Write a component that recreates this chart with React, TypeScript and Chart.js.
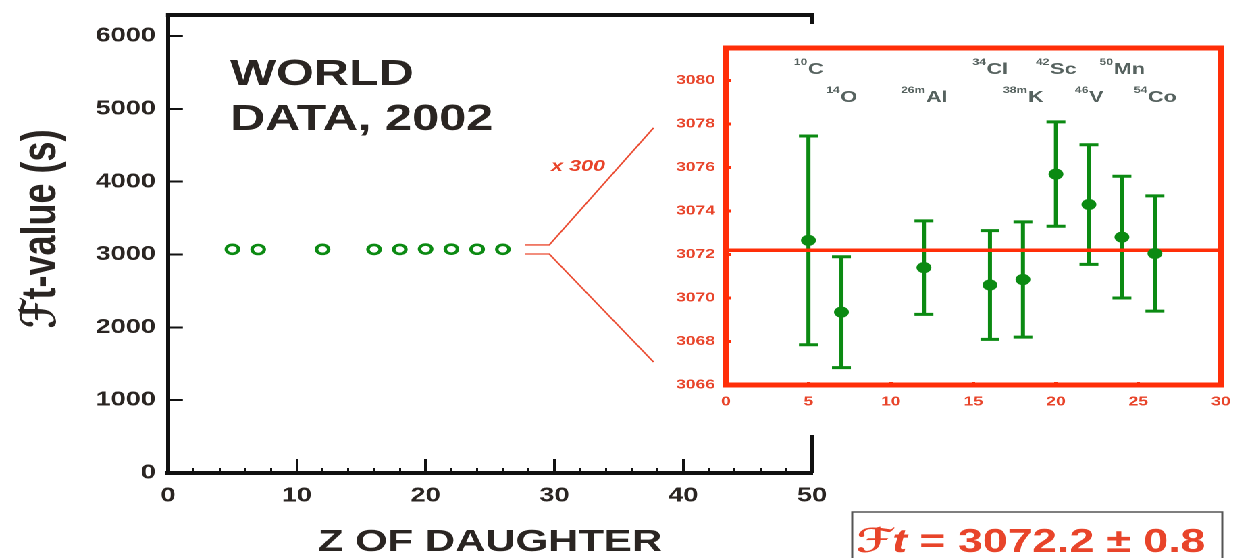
import React, { useEffect, useRef } from "react";
import { Chart, registerables } from "chart.js";

Chart.register(...registerables);

// Superallowed 0+ -> 0+ beta emitters: daughter Z, corrected Ft values (s) and 1-sigma errors
const DAUGHTER_Z = [5, 7, 12, 16, 18, 20, 22, 24, 26];
const FT_VALUES = [3072.65, 3069.35, 3071.4, 3070.6, 3070.85, 3075.7, 3074.3, 3072.8, 3072.05];
const FT_ERRORS = [4.8, 2.55, 2.15, 2.5, 2.65, 2.4, 2.75, 2.8, 2.65];
const ISOTOPE_MASS = ["10", "14", "26m", "34", "38m", "42", "46", "50", "54"];
const ISOTOPE_SYMBOL = ["C", "O", "Al", "Cl", "K", "Sc", "V", "Mn", "Co"];
const ISOTOPE_ROW = [0, 1, 1, 0, 1, 0, 1, 0, 1];

// World average
const FT_MEAN = 3072.2;
const FT_MEAN_ERROR = 0.8;
const MAGNIFICATION = 300;

// Axis ticks
const MAIN_X_TICKS = [0, 10, 20, 30, 40, 50];
const MAIN_X_MINOR = [0, 2, 4, 6, 8, 10, 12, 14, 16, 18, 20, 22, 24, 26, 28, 30, 32, 34, 36, 38, 40, 42, 44, 46, 48, 50];
const MAIN_Y_TICKS = [0, 1000, 2000, 3000, 4000, 5000, 6000];
const INSET_X_TICKS = [0, 5, 10, 15, 20, 25, 30];
const INSET_Y_TICKS = [3066, 3068, 3070, 3072, 3074, 3076, 3078, 3080];

const FONT = "'Liberation Sans', Arial, 'DejaVu Sans', sans-serif";
const INK = "#2a2522";
const GREEN = "#0b8a12";
const RED = "#ff2e08";
const RED_TEXT = "#e8442a";
const LABEL_GRAY = "#56625f";

// Drawing is done on a narrower surface, then widened to the page width
const W = 927;
const H = 558;
const STRETCH = 1252 / W;

const INSET_LEFT = 489;
const INSET_TOP = 24;
const INSET_W = W - INSET_LEFT;
const INSET_H = 411;

const fixedTicks = (values: number[]) => (scale: any) => {
  scale.ticks = values.map((v) => ({ value: v }));
};
const plainNumber = (v: number | string) => String(v);

// fixed axis thickness, and no extra room reserved for overhanging labels
const fixedSize = (size: number) => (s: any) => {
  if (s.isHorizontal()) s.height = size;
  else s.width = size;
  s.paddingTop = 0;
  s.paddingBottom = 0;
  s.paddingLeft = 0;
  s.paddingRight = 0;
};

const mainDecor = {
  id: "mainDecor",
  afterDraw(chart: any) {
    const { ctx, chartArea: a, scales } = chart;
    const xs = scales.x;
    const ys = scales.y;
    ctx.save();

    // top and right frame
    ctx.strokeStyle = "#111";
    ctx.lineWidth = 4;
    ctx.beginPath();
    ctx.moveTo(a.left - 1.5, a.top);
    ctx.lineTo(a.right + 1.5, a.top);
    ctx.stroke();
    ctx.lineWidth = 3;
    ctx.beginPath();
    ctx.moveTo(a.right, a.top - 2);
    ctx.lineTo(a.right, a.bottom);
    ctx.stroke();

    // caption
    ctx.fillStyle = INK;
    ctx.font = `bold 36px ${FONT}`;
    ctx.textAlign = "left";
    ctx.textBaseline = "alphabetic";
    ctx.fillText("WORLD", a.left + 46, 85);
    ctx.fillText("DATA, 2002", a.left + 46, 130);

    // zoom connector towards the inset
    ctx.strokeStyle = "#ea4a30";
    ctx.lineWidth = 1.3;
    const xa = xs.getPixelForValue(27.7);
    const xb = xs.getPixelForValue(29.6);
    const xc = xs.getPixelForValue(37.7);
    const yHi = ys.getPixelForValue(3132);
    const yLo = ys.getPixelForValue(3008);
    ctx.beginPath();
    ctx.moveTo(xa, yHi);
    ctx.lineTo(xb, yHi);
    ctx.lineTo(xc, ys.getPixelForValue(4740));
    ctx.moveTo(xa, yLo);
    ctx.lineTo(xb, yLo);
    ctx.lineTo(xc, ys.getPixelForValue(1525));
    ctx.stroke();

    ctx.fillStyle = RED_TEXT;
    ctx.font = `italic bold 16px ${FONT}`;
    ctx.textAlign = "center";
    ctx.fillText(`x ${MAGNIFICATION}`, 428, 171);

    // world average box
    const bx = 631;
    const by = 512;
    ctx.strokeStyle = "#555";
    ctx.lineWidth = 1.5;
    ctx.strokeRect(bx, by, 274, 70);
    ctx.fillStyle = RED_TEXT;
    ctx.textAlign = "left";
    let tx = bx + 3;
    const base = 552;
    ctx.font = `italic bold 33px 'DejaVu Sans', ${FONT}`;
    ctx.fillText("\u2131", tx, base);
    tx += ctx.measureText("\u2131").width;
    ctx.font = `italic bold 33px ${FONT}`;
    ctx.fillText("t", tx, base);
    tx += ctx.measureText("t").width;
    ctx.font = `bold 33px ${FONT}`;
    ctx.fillText(` = ${FT_MEAN.toFixed(1)} \u00b1 ${FT_MEAN_ERROR}`, tx, base);

    ctx.restore();
  },
};

const insetDecor = {
  id: "insetDecor",
  beforeDatasetsDraw(chart: any) {
    const { ctx, scales } = chart;
    const xs = scales.x;
    const ys = scales.y;
    ctx.save();
    ctx.strokeStyle = GREEN;
    ctx.lineWidth = 3;
    DAUGHTER_Z.forEach((z, i) => {
      const px = xs.getPixelForValue(z);
      const yHi = ys.getPixelForValue(FT_VALUES[i] + FT_ERRORS[i]);
      const yLo = ys.getPixelForValue(FT_VALUES[i] - FT_ERRORS[i]);
      ctx.beginPath();
      ctx.moveTo(px, yHi);
      ctx.lineTo(px, yLo);
      ctx.moveTo(px - 7, yHi);
      ctx.lineTo(px + 7, yHi);
      ctx.moveTo(px - 7, yLo);
      ctx.lineTo(px + 7, yLo);
      ctx.stroke();
    });
    ctx.restore();
  },
  afterDraw(chart: any) {
    const { ctx, chartArea: a, scales } = chart;
    const xs = scales.x;
    ctx.save();
    // top and right of the red frame
    ctx.strokeStyle = RED;
    ctx.lineWidth = 5;
    ctx.beginPath();
    ctx.moveTo(a.left - 2, a.top);
    ctx.lineTo(a.right + 2, a.top);
    ctx.stroke();
    ctx.lineWidth = 4;
    ctx.beginPath();
    ctx.moveTo(a.right, a.top - 2.5);
    ctx.lineTo(a.right, a.bottom + 2.5);
    ctx.stroke();

    // isotope names
    ctx.fillStyle = LABEL_GRAY;
    ctx.textAlign = "left";
    ctx.textBaseline = "alphabetic";
    const supFont = `bold 9px ${FONT}`;
    const symFont = `bold 16px ${FONT}`;
    DAUGHTER_Z.forEach((z, i) => {
      ctx.font = supFont;
      const ws = ctx.measureText(ISOTOPE_MASS[i]).width;
      ctx.font = symFont;
      const wm = ctx.measureText(ISOTOPE_SYMBOL[i]).width;
      const cx = xs.getPixelForValue(z);
      const x0 = cx - (ws + wm) / 2;
      const base = a.top + (ISOTOPE_ROW[i] ? 54 : 26);
      ctx.font = supFont;
      ctx.fillText(ISOTOPE_MASS[i], x0, base - 9);
      ctx.font = symFont;
      ctx.fillText(ISOTOPE_SYMBOL[i], x0 + ws + 0.5, base);
    });
    ctx.restore();
  },
};

export default function App() {
  const mainRef = useRef<HTMLCanvasElement>(null);
  const insetRef = useRef<HTMLCanvasElement>(null);

  useEffect(() => {
    if (!mainRef.current || !insetRef.current) return;
    const points = DAUGHTER_Z.map((z, i) => ({ x: z, y: FT_VALUES[i] }));

    const main = new Chart(mainRef.current, {
      type: "scatter",
      data: {
        datasets: [
          {
            data: points,
            pointStyle: "circle",
            pointRadius: 4.5,
            pointBorderWidth: 2.6,
            pointBorderColor: GREEN,
            pointBackgroundColor: "rgba(0,0,0,0)",
          },
        ],
      },
      options: {
        animation: false,
        responsive: false,
        devicePixelRatio: 2,
        events: [],
        layout: { autoPadding: false, padding: { left: 0, top: 15, right: W - 601.2, bottom: 0 } },
        plugins: { legend: { display: false }, tooltip: { enabled: false } },
        scales: {
          x: {
            type: "linear",
            position: "bottom",
            weight: 1,
            min: 0,
            max: 50,
            afterBuildTicks: fixedTicks(MAIN_X_TICKS),
            ticks: {
              font: { size: 20, weight: "bold", family: FONT },
              color: INK,
              padding: 25,
              maxRotation: 0,
              callback: plainNumber,
            },
            grid: { drawOnChartArea: false, tickLength: -14, color: "#111", lineWidth: 2 },
            border: { color: "#111", width: 4 },
            title: {
              display: true,
              text: "Z OF DAUGHTER",
              font: { size: 31, weight: "bold", family: FONT },
              color: INK,
              padding: { top: 0, bottom: -3 },
            },
            afterFit: fixedSize(H - 473),
          },
          xMinor: {
            type: "linear",
            position: "bottom",
            weight: 0,
            min: 0,
            max: 50,
            afterBuildTicks: fixedTicks(MAIN_X_MINOR),
            ticks: { display: false },
            grid: { drawOnChartArea: false, tickLength: -5, color: "#111", lineWidth: 1.5 },
            border: { display: false },
            afterFit: fixedSize(0),
          },
          y: {
            type: "linear",
            position: "left",
            min: 0,
            max: 6290,
            afterBuildTicks: fixedTicks(MAIN_Y_TICKS),
            ticks: {
              font: { size: 20, weight: "bold", family: FONT },
              color: INK,
              padding: 20,
              callback: plainNumber,
            },
            grid: { drawOnChartArea: false, tickLength: -11, color: "#111", lineWidth: 2 },
            border: { color: "#111", width: 3 },
            title: {
              display: true,
              text: "   \u2131t-value (s)",
              font: { size: 36, weight: "bold", family: FONT },
              color: INK,
              padding: { top: 9.5, bottom: 0 },
            },
            afterFit: fixedSize(124.4),
          },
        },
      },
      plugins: [mainDecor],
    });

    const inset = new Chart(insetRef.current, {
      type: "scatter",
      data: {
        datasets: [
          {
            data: points,
            order: 0,
            pointStyle: "circle",
            pointRadius: 5.5,
            pointBorderWidth: 0,
            pointBackgroundColor: GREEN,
          },
          {
            type: "line",
            order: 1,
            data: [
              { x: 0, y: FT_MEAN },
              { x: 30, y: FT_MEAN },
            ],
            borderColor: RED,
            borderWidth: 3.5,
            pointRadius: 0,
          },
        ],
      },
      options: {
        animation: false,
        responsive: false,
        devicePixelRatio: 2,
        events: [],
        layout: { autoPadding: false, padding: { left: 0, top: 24, right: 23, bottom: 0 } },
        plugins: { legend: { display: false }, tooltip: { enabled: false } },
        scales: {
          x: {
            type: "linear",
            position: "bottom",
            min: 0,
            max: 30,
            afterBuildTicks: fixedTicks(INSET_X_TICKS),
            ticks: {
              font: { size: 13, weight: "bold", family: FONT },
              color: RED_TEXT,
              padding: 12,
              maxRotation: 0,
              callback: plainNumber,
            },
            grid: { drawOnChartArea: false, tickLength: -3, color: RED, lineWidth: 2.5 },
            border: { color: RED, width: 5 },
            afterFit: fixedSize(50),
          },
          y: {
            type: "linear",
            position: "left",
            min: 3066,
            max: 3081.5,
            afterBuildTicks: fixedTicks(INSET_Y_TICKS),
            ticks: {
              font: { size: 13, weight: "bold", family: FONT },
              color: RED_TEXT,
              padding: 12,
              callback: plainNumber,
            },
            grid: { drawOnChartArea: false, tickLength: -4, color: RED, lineWidth: 3 },
            border: { color: RED, width: 4 },
            afterFit: fixedSize(48.5),
          },
        },
      },
      plugins: [insetDecor],
    });

    return () => {
      main.destroy();
      inset.destroy();
    };
  }, []);

  return (
    <div
      style={{
        position: "absolute",
        left: 0,
        top: 0,
        width: W,
        height: H,
        overflow: "hidden",
        background: "#fff",
        transform: `scaleX(${STRETCH})`,
        transformOrigin: "0 0",
      }}
    >
      <canvas
        ref={mainRef}
        width={W}
        height={H}
        style={{ position: "absolute", left: 0, top: 0, width: W, height: H }}
      />
      <canvas
        ref={insetRef}
        width={INSET_W}
        height={INSET_H}
        style={{
          position: "absolute",
          left: INSET_LEFT,
          top: INSET_TOP,
          width: INSET_W,
          height: INSET_H,
          background: "#fff",
        }}
      />
    </div>
  );
}
